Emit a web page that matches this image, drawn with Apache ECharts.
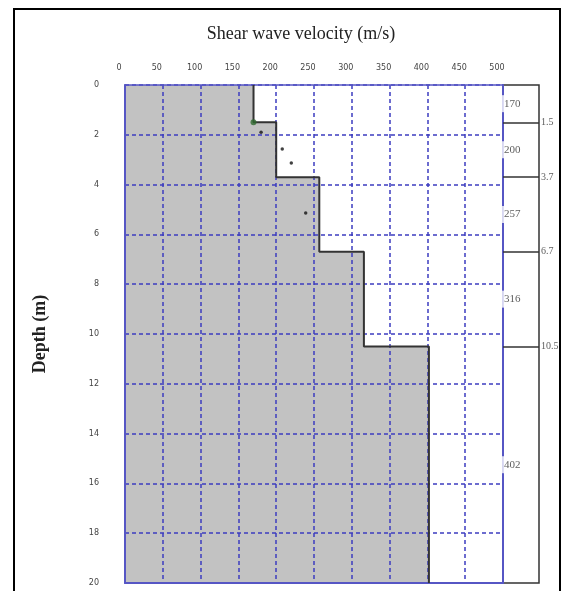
<!DOCTYPE html>
<html>
<head>
<meta charset="utf-8">
<script src="https://cdn.jsdelivr.net/npm/echarts@6/dist/echarts.min.js"></script>
<style>
html,body{margin:0;padding:0;background:#fff;}
#frame{position:absolute;left:13px;top:8px;width:548px;height:600px;border:2px solid #000;box-sizing:border-box;}
#chart{position:absolute;left:0;top:0;width:565px;height:591px;}
</style>
</head>
<body>
<div id="frame"></div>
<div id="chart"></div>
<script>
// ---- data ----
const velocityTicks = [0, 50, 100, 150, 200, 250, 300, 350, 400, 450, 500];
const depthTicks = [0, 2, 4, 6, 8, 10, 12, 14, 16, 18, 20];
const layerVelocity = [170, 200, 257, 316, 402];       // m/s
const layerTop = [0, 1.5, 3.7, 6.7, 10.5];             // m
const layerBottom = [1.5, 3.7, 6.7, 10.5, 20];         // m
const boundaryDepths = [1.5, 3.7, 6.7, 10.5];
const boundaryLabels = ['1.5', '3.7', '6.7', '10.5'];
const measuredV = [180, 208, 220, 239];
const measuredD = [1.9, 2.57, 3.13, 5.14];
const startPoint = [170, 1.5];

// ---- derived ----
const maxDepth = depthTicks[depthTicks.length - 1];
const stepLine = [];
layerVelocity.forEach((v, i) => { stepLine.push([v, layerTop[i]]); stepLine.push([v, layerBottom[i]]); });
// each layer fills from its top down to the profile bottom; deeper (faster) layers overlap shallower ones
const layerData = layerVelocity.map((v, i) => [v, layerTop[i], maxDepth]);
const layerLabelData = layerVelocity.map((v, i) => ({ value: [0, (layerTop[i] + layerBottom[i]) / 2], label: { formatter: String(v) } }));
const boundaryLabelData = boundaryDepths.map((d, i) => ({ value: [1, d], label: { formatter: boundaryLabels[i] } }));
const measuredData = measuredV.map((v, i) => [v, measuredD[i]]);

const BLUE_LINE = '#5656c4';
const BLUE_DASH = '#3c3cc0';

const chart = echarts.init(document.getElementById('chart'), null, { renderer: 'canvas' });
chart.setOption({
  animation: false,
  backgroundColor: 'transparent',
  title: {
    text: 'Shear wave velocity (m/s)',
    left: 296, top: 20, textAlign: 'center',
    textStyle: { fontFamily: 'Liberation Serif', fontSize: 18, fontWeight: 'normal', color: '#222' }
  },
  grid: [
    { left: 125, top: 85, width: 378, height: 498 },
    { left: 503, top: 85, width: 36, height: 498, show: true, borderColor: '#333', borderWidth: 1.5, backgroundColor: 'transparent' }
  ],
  xAxis: [
    {
      gridIndex: 0, type: 'value', position: 'top', min: 0, max: 500, interval: 50, z: 3,
      axisLine: { show: true, onZero: false, lineStyle: { color: BLUE_LINE, width: 1.5 } },
      axisTick: { show: false },
      axisLabel: { fontSize: 8, color: '#444', fontFamily: 'DejaVu Sans', margin: 13, padding: [0, 12, 0, 0],
                   customValues: velocityTicks },
      splitLine: { show: true, lineStyle: { color: BLUE_DASH, width: 1.5, type: [4, 3] } }
    },
    {
      gridIndex: 0, type: 'value', position: 'bottom', min: 0, max: 500, z: 3,
      axisLine: { show: true, onZero: false, lineStyle: { color: BLUE_LINE, width: 2 } },
      axisTick: { show: false }, axisLabel: { show: false }, splitLine: { show: false }
    },
    {
      gridIndex: 1, type: 'value', min: 0, max: 1, show: false
    }
  ],
  yAxis: [
    {
      gridIndex: 0, type: 'value', inverse: true, min: 0, max: 20, interval: 2, z: 3,
      name: 'Depth (m)', nameLocation: 'middle', nameGap: 76, nameRotate: 90,
      nameTextStyle: { fontFamily: 'Liberation Serif', fontSize: 18, fontWeight: 'bold', color: '#222' },
      axisLine: { show: true, onZero: false, lineStyle: { color: BLUE_LINE, width: 2 } },
      axisTick: { show: false },
      axisLabel: { fontSize: 8, color: '#444', fontFamily: 'DejaVu Sans', margin: 26 },
      splitLine: { show: true, lineStyle: { color: BLUE_DASH, width: 1.5, type: [4, 3] } }
    },
    {
      gridIndex: 1, type: 'value', inverse: true, min: 0, max: 20, z: 3,
      axisLine: { show: true, onZero: false, lineStyle: { color: BLUE_LINE, width: 2 } },
      axisTick: { show: false }, axisLabel: { show: false }, splitLine: { show: false }
    }
  ],
  series: [
    {
      type: 'custom', xAxisIndex: 0, yAxisIndex: 0, z: 1, silent: true,
      data: layerData,
      renderItem: function (params, api) {
        const p0 = api.coord([0, api.value(1)]);
        const p1 = api.coord([api.value(0), api.value(2)]);
        return { type: 'rect', shape: { x: p0[0], y: p0[1], width: p1[0] - p0[0], height: p1[1] - p0[1] },
                 style: { fill: '#c2c2c2' } };
      }
    },
    {
      type: 'line', xAxisIndex: 0, yAxisIndex: 0, z: 5, data: stepLine,
      symbol: 'none', lineStyle: { color: '#333', width: 2 }
    },
    {
      type: 'scatter', xAxisIndex: 0, yAxisIndex: 0, z: 6, data: measuredData,
      symbolSize: 3.5, itemStyle: { color: '#111' }
    },
    {
      type: 'scatter', xAxisIndex: 0, yAxisIndex: 0, z: 6, data: [startPoint],
      symbolSize: 6, itemStyle: { color: '#2f6a2f' }
    },
    {
      type: 'line', xAxisIndex: 2, yAxisIndex: 1, z: 4, data: [],
      markLine: {
        silent: true, symbol: 'none', label: { show: false },
        lineStyle: { color: '#333', width: 1.5, type: 'solid' },
        data: boundaryDepths.map(d => ({ yAxis: d }))
      }
    },
    {
      type: 'scatter', xAxisIndex: 2, yAxisIndex: 1, z: 6, data: layerLabelData,
      symbolSize: 0.1, itemStyle: { color: 'transparent' },
      label: { show: true, position: 'right', distance: -1, padding: [3, 3, 3, 2], backgroundColor: '#fff',
               fontFamily: 'Liberation Serif', fontSize: 11, color: '#333' }
    },
    {
      type: 'scatter', xAxisIndex: 2, yAxisIndex: 1, z: 6, data: boundaryLabelData,
      symbolSize: 0.1, itemStyle: { color: 'transparent' },
      label: { show: true, position: 'right', distance: 2, fontFamily: 'Liberation Serif', fontSize: 10, color: '#333' }
    }
  ]
});
</script>
</body>
</html>
